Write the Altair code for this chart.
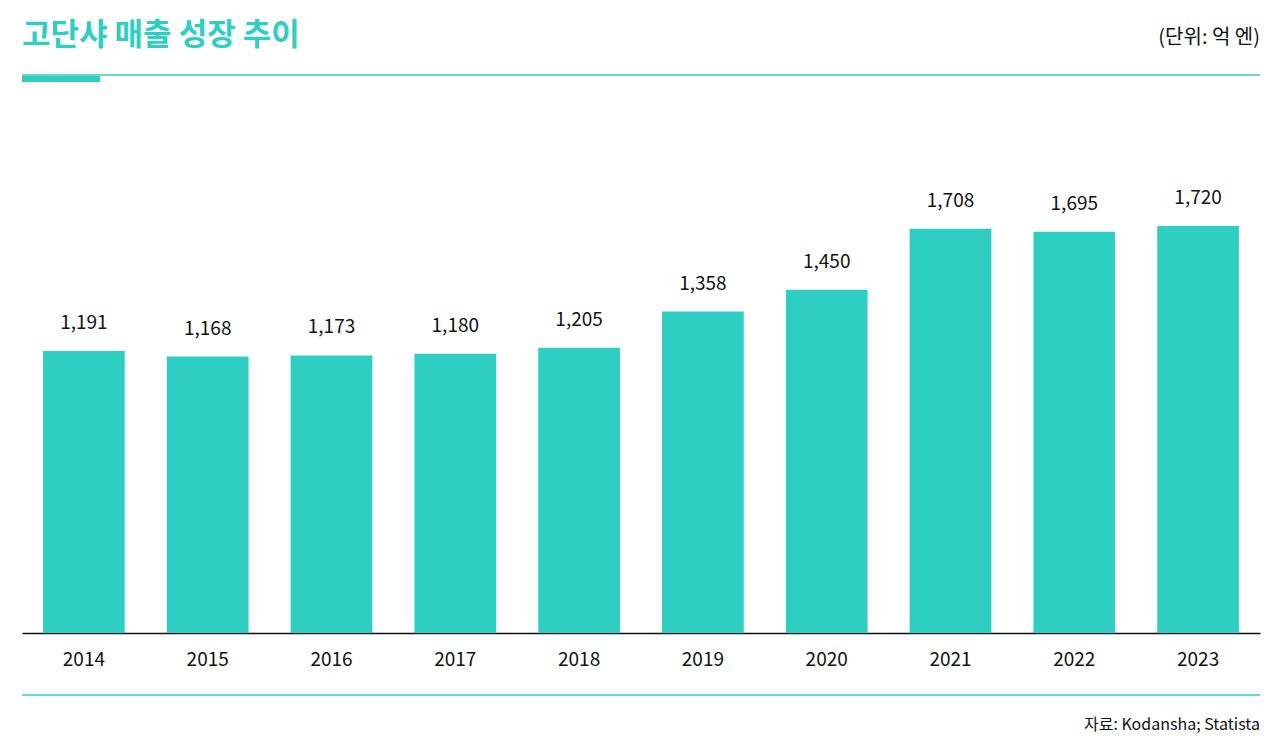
import altair as alt
import pandas as pd

years = ["2014", "2015", "2016", "2017", "2018", "2019", "2020", "2021", "2022", "2023"]
sales = [1191, 1168, 1173, 1180, 1205, 1358, 1450, 1708, 1695, 1720]

TEAL = "#2ECFC2"
FONT = "Noto Sans CJK KR"

df = pd.DataFrame({"year": years, "sales": sales})

base = alt.Chart(df)

bars = base.mark_bar(color=TEAL).encode(
    x=alt.X(
        "year:N",
        title=None,
        sort=None,
        scale=alt.Scale(paddingInner=0.34, paddingOuter=0.17),
        axis=alt.Axis(
            labelAngle=0, labelFontSize=19, labelColor="#111", labelFont=FONT,
            labelPadding=17, ticks=False, domainColor="#111", domainWidth=1.5,
        ),
    ),
    y=alt.Y("sales:Q", title=None,
            scale=alt.Scale(domain=[0, 2252], nice=False), axis=None),
)

labels = base.mark_text(dy=-28, fontSize=19, font=FONT, color="#111").encode(
    x=alt.X("year:N", sort=None),
    y="sales:Q",
    text=alt.Text("sales:Q", format=","),
)

deco = alt.Chart(pd.DataFrame({"k": [0]}))

# pixel positions measured from the top of the plot area
top_line = deco.mark_rule(color=TEAL, strokeWidth=1.5).encode(
    x=alt.value(0), x2=alt.value(1238), y=alt.value(-25)
)
top_accent = deco.mark_rule(color=TEAL, strokeWidth=6).encode(
    x=alt.value(0), x2=alt.value(78), y=alt.value(-21)
)
bottom_line = deco.mark_rule(color=TEAL, strokeWidth=1.5).encode(
    x=alt.value(0), x2=alt.value(1238), y=alt.value(595)
)
title = deco.mark_text(
    text="고단샤 매출 성장 추이", align="left", baseline="middle",
    fontSize=31, fontWeight="bold", font=FONT, color=TEAL,
).encode(x=alt.value(0), y=alt.value(-64))
unit = deco.mark_text(
    text="(단위: 억 엔)", align="right", baseline="middle",
    fontSize=20, font=FONT, color="#111",
).encode(x=alt.value(1238), y=alt.value(-62))
source = deco.mark_text(
    text="자료: Kodansha; Statista", align="right", baseline="middle",
    fontSize=16, font=FONT, color="#111",
).encode(x=alt.value(1238), y=alt.value(625))

chart = (
    alt.layer(bars, labels, top_line, top_accent, bottom_line, title, unit, source)
    .properties(
        width=1238, height=533,
        autosize=alt.AutoSizeParams(type="none"),
        padding={"left": 14, "top": 92, "right": 12, "bottom": 108},
        background="white",
    )
    .configure_view(stroke=None)
)

chart.save("out.html", embed_options={"renderer": "svg", "actions": False})
